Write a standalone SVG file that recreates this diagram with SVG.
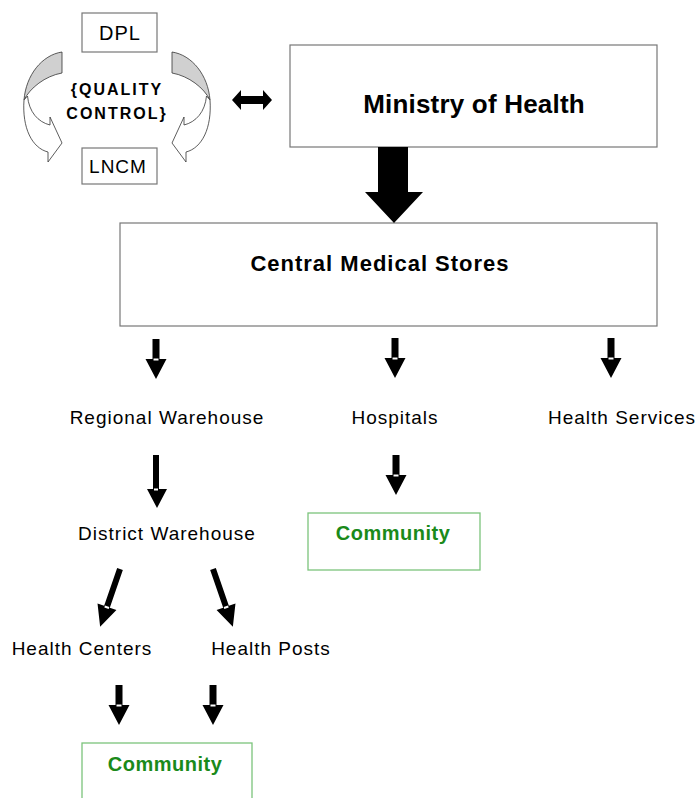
<svg xmlns="http://www.w3.org/2000/svg" xmlns:xlink="http://www.w3.org/1999/xlink" width="697" height="798" viewBox="0 0 697 798">
<style>
.box{fill:#fff;stroke:#777;stroke-width:1.2}
.gbox{fill:#fff;stroke:#7cc47c;stroke-width:1.3}
.t{font-family:"Liberation Sans",Arial,sans-serif;font-size:19px;letter-spacing:1px;fill:#000;text-anchor:middle}
.b{font-family:"Liberation Sans",Arial,sans-serif;font-weight:bold;fill:#000;text-anchor:middle}
.g{font-family:"Liberation Sans",Arial,sans-serif;font-weight:bold;font-size:20px;letter-spacing:0.5px;fill:#1a8a1a;text-anchor:middle}
.arr{fill:#000}
.nt{fill:#fff}
.cv{fill:#fff;stroke:#333;stroke-width:0.8}
.cg{fill:#d0d0d0;stroke:#333;stroke-width:0.8}
</style>
<defs>
<g id="dn">
<path class="arr" d="M-3.5,0 H3.5 V20 H10.5 L0,40 L-10.5,20 H-3.5 Z"/>
<rect class="nt" x="-2.5" y="19.5" width="5" height="2"/>
</g>
<g id="dg">
<path class="arr" d="M-3,0 H3 V40 H10 L0,61 L-10,40 H-3 Z"/>
<rect class="nt" x="-2.3" y="39.5" width="4.6" height="2"/>
</g>
</defs>

<g id="qc">
<g id="curve-left">
<path class="cg" d="M62,52 C42,55 26,75 24,100 C30,88 45,76 62,73 Z"/>
<path class="cv" d="M24,100 C22,128 32,148 48,152 L48,162 L62,143 L50,117 L50,125 C38,122 29,112 27.5,96 Z"/>
</g>
<g id="curve-right" transform="translate(234,0) scale(-1,1)">
<path class="cg" d="M62,52 C42,55 26,75 24,100 C30,88 45,76 62,73 Z"/>
<path class="cv" d="M24,100 C22,128 32,148 48,152 L48,162 L62,143 L50,117 L50,125 C38,122 29,112 27.5,96 Z"/>
</g>
<text class="b" x="117" y="95" style="font-size:16px;letter-spacing:2px">{QUALITY</text>
<text class="b" x="117" y="119" style="font-size:16px;letter-spacing:2px">CONTROL}</text>
</g>

<g id="dpl">
<rect class="box" x="82" y="13" width="75" height="39"/>
<text class="t" x="120" y="40" style="font-size:20px">DPL</text>
</g>
<g id="lncm">
<rect class="box" x="82" y="148" width="75" height="36"/>
<text class="t" x="118" y="173">LNCM</text>
</g>

<g id="moh">
<rect class="box" x="290" y="45" width="367" height="102"/>
<text class="b" x="474" y="113" style="font-size:26px;letter-spacing:0.2px">Ministry of Health</text>
</g>

<g id="cms">
<rect class="box" x="120" y="223" width="537" height="103"/>
<text class="b" x="380" y="271" style="font-size:22px;letter-spacing:1px">Central Medical Stores</text>
</g>

<g id="regional"><text class="t" x="167" y="424">Regional Warehouse</text></g>
<g id="hospitals"><text class="t" x="395" y="424">Hospitals</text></g>
<g id="health-services"><text class="t" x="622" y="424">Health Services</text></g>
<g id="district"><text class="t" x="167" y="540">District Warehouse</text></g>
<g id="health-centers"><text class="t" x="82" y="655">Health Centers</text></g>
<g id="health-posts"><text class="t" x="271" y="655">Health Posts</text></g>

<g id="community-1">
<rect class="gbox" x="308" y="513" width="172" height="57"/>
<text class="g" x="393" y="540">Community</text>
</g>
<g id="community-2">
<rect class="gbox" x="82" y="743" width="170" height="70"/>
<text class="g" x="165" y="771">Community</text>
</g>

<g id="connectors">
<path class="arr" d="M232,100 L241,90 L241,96 L263,96 L263,90 L272,100 L263,110 L263,104 L241,104 L241,110 Z"/>
<path class="arr" d="M378,147 H408 V192 H423 L394,223 L365,192 H378 Z"/>
<use xlink:href="#dn" href="#dn" transform="translate(156,339)"/>
<use xlink:href="#dn" href="#dn" transform="translate(395,338)"/>
<use xlink:href="#dn" href="#dn" transform="translate(611,338)"/>
<path class="arr" d="M153,455 H159 V489 H167 L157,508 L147,489 H153 Z"/>
<rect class="nt" x="154" y="488.5" width="4" height="2"/>
<use xlink:href="#dn" href="#dn" transform="translate(396,455)"/>
<use xlink:href="#dg" href="#dg" transform="translate(120,569) rotate(19)"/>
<use xlink:href="#dg" href="#dg" transform="translate(213,569) rotate(-19)"/>
<use xlink:href="#dn" href="#dn" transform="translate(119,685)"/>
<use xlink:href="#dn" href="#dn" transform="translate(213,685)"/>
</g>
</svg>
